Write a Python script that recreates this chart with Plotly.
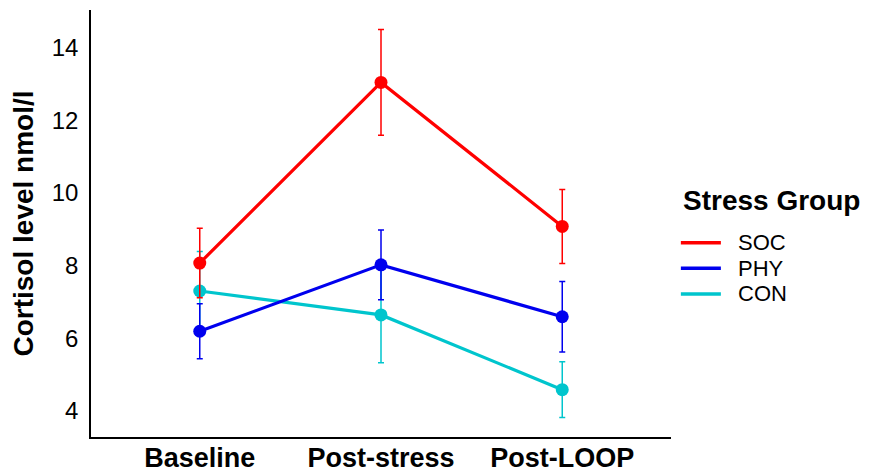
import plotly.graph_objects as go

categories = ["Baseline", "Post-stress", "Post-LOOP"]
groups = ["SOC", "PHY", "CON"]
colors = ["#FF0000", "#0000EE", "#00C5CD"]

soc_mean = [8.07, 13.05, 9.08]
soc_err = [0.96, 1.46, 1.02]
phy_mean = [6.19, 8.02, 6.59]
phy_err = [0.76, 0.96, 0.97]
con_mean = [7.30, 6.64, 4.58]
con_err = [1.09, 1.32, 0.77]

means = [soc_mean, phy_mean, con_mean]
errs = [soc_err, phy_err, con_err]

y_ticks = [4, 6, 8, 10, 12, 14]

FONT = "Liberation Sans, Arial, sans-serif"

fig = go.Figure()
# draw in reverse so SOC on top
for name, col, m, e in reversed(list(zip(groups, colors, means, errs))):
    fig.add_trace(go.Scatter(
        x=categories, y=m, name=name, mode="lines+markers",
        line=dict(color=col, width=3.2),
        marker=dict(color=col, size=13),
        error_y=dict(type="data", array=e, visible=True, color=col,
                     thickness=1.5, width=3),
        showlegend=False,
    ))

lo = min(mm - ee for m, e in zip(means, errs) for mm, ee in zip(m, e))
hi = max(mm + ee for m, e in zip(means, errs) for mm, ee in zip(m, e))
pad = (hi - lo) * 0.05

# page body adds an 8px margin, so the figure is 16px smaller
fig.update_layout(
    width=867, height=464,
    margin=dict(l=83, r=204, t=2, b=35),
    plot_bgcolor="white", paper_bgcolor="white",
    font=dict(family=FONT, color="black"),
    xaxis=dict(
        range=[-0.6, len(categories) - 0.4],
        showline=True, linecolor="black", linewidth=1.5,
        showgrid=False, zeroline=False, ticks="",
        tickfont=dict(size=27, family=FONT, color="black", weight="bold"),
        ticklabelstandoff=-4, automargin=False,
    ),
    yaxis=dict(
        range=[lo - pad, hi + pad],
        tickvals=y_ticks,
        showline=True, linecolor="black", linewidth=1.5,
        showgrid=False, zeroline=False, ticks="",
        tickfont=dict(size=24, family=FONT, color="black"),
        ticklabelstandoff=6, automargin=False,
        title=dict(text="<b>Cortisol level nmol/l</b>",
                   font=dict(size=28, family=FONT, color="black"),
                   standoff=16),
    ),
)

# legend built manually for tight spacing
fig.add_annotation(xref="paper", yref="paper", x=1.017, y=0.555,
                   xanchor="left", yanchor="middle", showarrow=False,
                   text="<b>Stress Group</b>",
                   font=dict(size=28, family=FONT, color="black"))
leg_y = [0.455, 0.395, 0.335]
for name, col, ly in zip(groups, colors, leg_y):
    fig.add_shape(type="line", xref="paper", yref="paper",
                  x0=1.017, x1=1.086, y0=ly, y1=ly,
                  line=dict(color=col, width=3.5))
    fig.add_annotation(xref="paper", yref="paper", x=1.112, y=ly,
                       xanchor="left", yanchor="middle", showarrow=False,
                       text=name,
                       font=dict(size=22, family=FONT, color="black"))

fig.write_html("out.html")
